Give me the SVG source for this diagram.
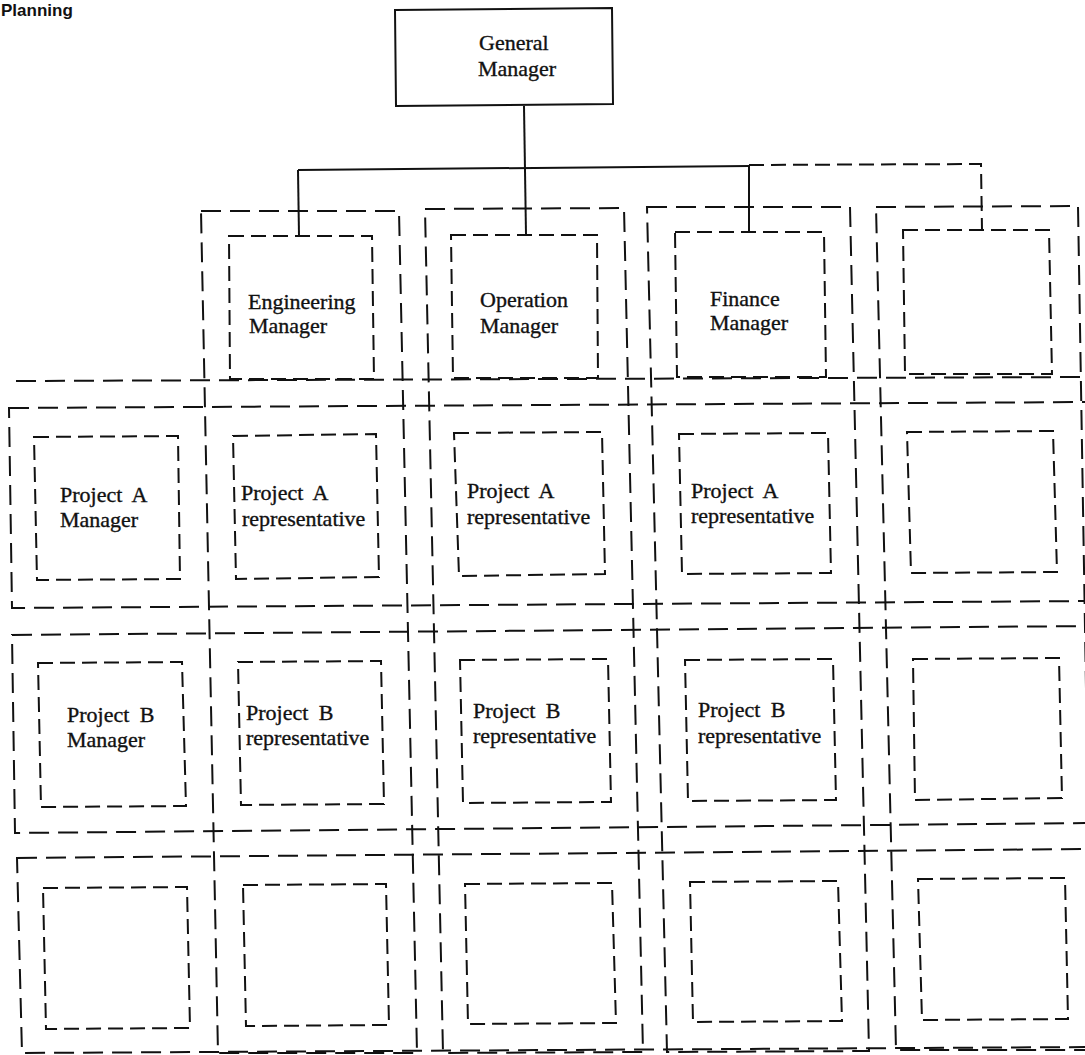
<svg xmlns="http://www.w3.org/2000/svg" width="1085" height="1055" viewBox="0 0 1085 1055">
<style>
.frame{fill:none;stroke:#111;stroke-width:2;stroke-dasharray:20 9}
.cell{fill:none;stroke:#111;stroke-width:2;stroke-dasharray:15 7}
.solid{fill:none;stroke:#111;stroke-width:2}
.dash{fill:none;stroke:#111;stroke-width:2;stroke-dasharray:15 7}
.lbl{font-family:"Liberation Serif","Times New Roman",serif;font-size:22px;fill:#111;stroke:#111;stroke-width:0.35}
.pj{word-spacing:5px}
.title{font-family:"Liberation Sans",Arial,sans-serif;font-weight:bold;font-size:17px;fill:#111}
</style>
<rect x="0" y="0" width="1085" height="1055" fill="#fff"/>
<text class="title" x="1" y="16">Planning</text>

<g id="frames">
  <path id="col-engineering" class="frame" d="M201 211 L399 211 L417 1053 L218 1053 Z"/>
  <path id="col-operation" class="frame" d="M425 209 L624 208 L643 1052 L443 1053 Z"/>
  <path id="col-finance" class="frame" d="M647 207 L850 207 L869 1051 L667 1052 Z"/>
  <path id="col-blank" class="frame" d="M876 207 L1078 206 L1092 1050 L896 1050 Z"/>
  <path id="row-a" class="frame" d="M9 408 L1092 402 L1092 601 L12 608 Z"/>
  <path id="row-b" class="frame" d="M12 635 L1092 626 L1092 823 L15 833 Z"/>
  <path id="row-c" class="frame" d="M17 858 L1092 849 L1092 1047 L22 1053 Z"/>
  <path id="divider" class="frame" d="M16 381 L1092 377"/>
</g>

<g id="connectors">
  <path class="solid" d="M524 106 L526 235"/>
  <path class="solid" d="M298 170 L749 166"/>
  <path class="solid" d="M298 170 L299 236"/>
  <path class="solid" d="M749 166 L749 232"/>
  <path class="dash" d="M749 165 L981 164 L982 230"/>
</g>

<g id="general-manager">
  <path class="solid" d="M395 10 L612 8 L613 104 L396 106 Z"/>
  <text class="lbl" x="479" y="50">General</text>
  <text class="lbl" x="478" y="76">Manager</text>
</g>

<g id="engineering-manager">
  <path class="cell" d="M229 236 L372 236 L374 379 L230 379 Z"/>
  <text class="lbl" x="248" y="309">Engineering</text>
  <text class="lbl" x="249" y="333">Manager</text>
</g>
<g id="operation-manager">
  <path class="cell" d="M451 235 L597 235 L598 378 L453 378 Z"/>
  <text class="lbl" x="480" y="307">Operation</text>
  <text class="lbl" x="480" y="333">Manager</text>
</g>
<g id="finance-manager">
  <path class="cell" d="M675 232 L824 232 L826 377 L677 377 Z"/>
  <text class="lbl" x="710" y="306">Finance</text>
  <text class="lbl" x="710" y="330">Manager</text>
</g>
<g id="blank-manager">
  <path class="cell" d="M903 230 L1049 230 L1052 374 L905 374 Z"/>
</g>

<g id="project-a-manager">
  <path class="cell" d="M34 437 L178 436 L180 579 L37 580 Z"/>
  <text class="lbl pj" x="60" y="502">Project A</text>
  <text class="lbl" x="60" y="527">Manager</text>
</g>
<g id="project-a-engineering">
  <path class="cell" d="M233 436 L376 434 L379 577 L236 579 Z"/>
  <text class="lbl pj" x="241" y="500">Project A</text>
  <text class="lbl" x="242" y="526">representative</text>
</g>
<g id="project-a-operation">
  <path class="cell" d="M454 433 L602 432 L605 574 L459 576 Z"/>
  <text class="lbl pj" x="467" y="498">Project A</text>
  <text class="lbl" x="467" y="524">representative</text>
</g>
<g id="project-a-finance">
  <path class="cell" d="M679 434 L828 433 L831 573 L682 574 Z"/>
  <text class="lbl pj" x="691" y="498">Project A</text>
  <text class="lbl" x="691" y="523">representative</text>
</g>
<g id="project-a-blank">
  <path class="cell" d="M907 432 L1053 431 L1057 572 L911 573 Z"/>
</g>

<g id="project-b-manager">
  <path class="cell" d="M38 663 L182 662 L186 806 L41 807 Z"/>
  <text class="lbl pj" x="67" y="722">Project B</text>
  <text class="lbl" x="67" y="747">Manager</text>
</g>
<g id="project-b-engineering">
  <path class="cell" d="M238 662 L381 661 L384 804 L241 805 Z"/>
  <text class="lbl pj" x="246" y="720">Project B</text>
  <text class="lbl" x="246" y="745">representative</text>
</g>
<g id="project-b-operation">
  <path class="cell" d="M460 660 L608 659 L611 802 L463 803 Z"/>
  <text class="lbl pj" x="473" y="718">Project B</text>
  <text class="lbl" x="473" y="743">representative</text>
</g>
<g id="project-b-finance">
  <path class="cell" d="M685 660 L833 659 L836 800 L688 801 Z"/>
  <text class="lbl pj" x="698" y="717">Project B</text>
  <text class="lbl" x="698" y="743">representative</text>
</g>
<g id="project-b-blank">
  <path class="cell" d="M913 659 L1059 658 L1062 798 L915 800 Z"/>
</g>

<g id="project-c-manager">
  <path class="cell" d="M43 888 L187 887 L190 1028 L46 1029 Z"/>
</g>
<g id="project-c-engineering">
  <path class="cell" d="M243 885 L386 884 L389 1025 L246 1026 Z"/>
</g>
<g id="project-c-operation">
  <path class="cell" d="M465 884 L612 883 L616 1023 L468 1024 Z"/>
</g>
<g id="project-c-finance">
  <path class="cell" d="M690 882 L838 881 L842 1021 L693 1022 Z"/>
</g>
<g id="project-c-blank">
  <path class="cell" d="M918 879 L1065 878 L1068 1019 L922 1020 Z"/>
</g>
</svg>
